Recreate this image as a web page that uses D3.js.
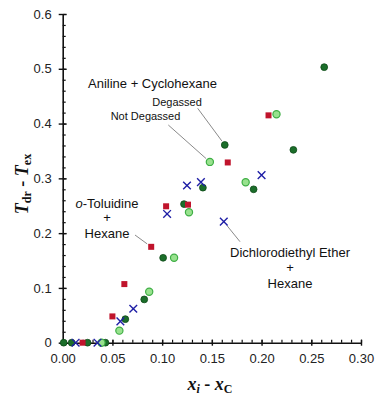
<!DOCTYPE html>
<html>
<head>
<meta charset="utf-8">
<script src="https://cdn.jsdelivr.net/npm/d3@7"></script>
<style>
  body { margin: 0; background: #fff; }
  svg { display: block; }
  .tick text { font-family: "Liberation Sans", Arial, sans-serif; font-size: 13px; fill: #222; }
  .note { font-family: "Liberation Sans", Arial, sans-serif; fill: #111; }
  .title { font-family: "Liberation Serif", "Times New Roman", serif; font-weight: bold; fill: #111; }
</style>
</head>
<body>
<div class="panel"></div>
<script>

// Data (x_i - x_C, T_dr - T_ex)

const toluidineHexane = [
    [0.020, 0], [0.050, 0.048], [0.062, 0.107], [0.089, 0.175],
    [0.104, 0.249], [0.126, 0.252], [0.166, 0.329], [0.207, 0.415]
];

const etherHexane = [
    [0.013, 0], [0.035, 0], [0.058, 0.039], [0.071, 0.062], [0.105, 0.235],
    [0.125, 0.287], [0.139, 0.293], [0.162, 0.221], [0.200, 0.306]
];

const anilineDegassed = [
    [0.001, 0], [0.009, 0], [0.025, 0], [0.043, 0], [0.063, 0.043],
    [0.082, 0.079], [0.101, 0.155], [0.122, 0.253], [0.141, 0.283],
    [0.163, 0.361], [0.192, 0.280], [0.232, 0.352], [0.263, 0.503]
];

const anilineNotDegassed = [
    [0.039, 0], [0.057, 0.022], [0.087, 0.093], [0.112, 0.155],
    [0.127, 0.238], [0.148, 0.330], [0.184, 0.293], [0.215, 0.417]
];

const xTicks = [0, 0.05, 0.10, 0.15, 0.20, 0.25, 0.30];
const yTicks = [0, 0.1, 0.2, 0.3, 0.4, 0.5, 0.6];

drawChart();

function drawChart() {

    const params = {
        width: 380,
        height: 398,
        left: 62.7,
        right: 361,
        top: 14,
        bottom: 342.7
    };

    const svg = d3.select(".panel").append("svg")
        .attr("width", params.width)
        .attr("height", params.height);

    const x = d3.scaleLinear().domain([0, 0.3]).range([params.left, params.right]);
    const y = d3.scaleLinear().domain([0, 0.6]).range([params.bottom, params.top]);

    const xMinor = d3.range(0, 0.3001, 0.01);
    const yMinor = d3.range(0, 0.6001, 0.02);

    // minor ticks (inside)
    svg.append("g")
        .attr("transform", `translate(${params.left},0)`)
        .call(d3.axisRight(y).tickValues(yMinor).tickSize(3).tickFormat(""))
        .call(g => g.select(".domain").remove())
        .call(g => g.selectAll("line").attr("stroke", "#111").attr("stroke-width", 1.2));

    svg.append("g")
        .attr("transform", `translate(0,${params.bottom})`)
        .call(d3.axisTop(x).tickValues(xMinor).tickSize(3).tickFormat(""))
        .call(g => g.select(".domain").remove())
        .call(g => g.selectAll("line").attr("stroke", "#111").attr("stroke-width", 1.2));

    // major axes, ticks cross the axis line
    svg.append("g")
        .attr("transform", `translate(${params.left},0)`)
        .call(d3.axisLeft(y).tickValues(yTicks).tickSizeInner(4).tickSizeOuter(0).tickPadding(7)
            .tickFormat(d => d === 0 ? "0" : d3.format(".1f")(d)))
        .call(g => g.select(".domain").attr("stroke", "#111").attr("stroke-width", 1.6))
        .call(g => g.selectAll(".tick line").attr("x1", 4).attr("stroke", "#111").attr("stroke-width", 1.4));

    svg.append("g")
        .attr("transform", `translate(0,${params.bottom})`)
        .call(d3.axisBottom(x).tickValues(xTicks).tickSizeInner(3).tickSizeOuter(0).tickPadding(8)
            .tickFormat(d3.format(".2f")))
        .call(g => g.select(".domain").attr("stroke", "#111").attr("stroke-width", 1.6))
        .call(g => g.selectAll(".tick line").attr("y1", -3).attr("stroke", "#111").attr("stroke-width", 1.4));

    // axis titles
    const yTitle = svg.append("text")
        .attr("class", "title")
        .attr("transform", `translate(28,184) rotate(-90)`)
        .attr("text-anchor", "middle")
        .attr("font-size", 18);
    yTitle.append("tspan").attr("font-style", "italic").text("T");
    yTitle.append("tspan").attr("font-size", 12).attr("dy", 3).text("dr");
    yTitle.append("tspan").attr("dy", -3).text(" - ");
    yTitle.append("tspan").attr("font-style", "italic").text("T");
    yTitle.append("tspan").attr("font-size", 12).attr("dy", 3).text("ex");

    const xTitle = svg.append("text")
        .attr("class", "title")
        .attr("x", 210)
        .attr("y", 390)
        .attr("text-anchor", "middle")
        .attr("font-size", 18);
    xTitle.append("tspan").attr("font-style", "italic").text("x");
    xTitle.append("tspan").attr("font-style", "italic").attr("font-size", 12).attr("dy", 3).text("i");
    xTitle.append("tspan").attr("dy", -3).text(" - ");
    xTitle.append("tspan").attr("font-style", "italic").text("x");
    xTitle.append("tspan").attr("font-size", 12).attr("dy", 3).text("C");

    // leader lines
    const leaders = [
        { from: [197.7, 108.3], to: anilineDegassed[9] },
        { from: [168.3, 125], to: anilineNotDegassed[5] },
        { from: [135, 235], to: toluidineHexane[3] },
        { from: [240, 241.7], to: etherHexane[7] }
    ];

    svg.selectAll(".leader")
        .data(leaders)
        .enter().append("line")
        .attr("class", "leader")
        .attr("x1", d => d.from[0])
        .attr("y1", d => d.from[1])
        .attr("x2", d => {
            const px = x(d.to[0]), py = y(d.to[1]);
            const dx = px - d.from[0], dy = py - d.from[1], len = Math.hypot(dx, dy);
            return px - dx / len * 5;
        })
        .attr("y2", d => {
            const px = x(d.to[0]), py = y(d.to[1]);
            const dx = px - d.from[0], dy = py - d.from[1], len = Math.hypot(dx, dy);
            return py - dy / len * 5;
        })
        .attr("stroke", "#8a8a8a")
        .attr("stroke-width", 1);

    // annotations
    const notes = [
        { text: "Aniline + Cyclohexane", x: 152.5, y: 88, size: 13 },
        { text: "Degassed", x: 177, y: 105.5, size: 11 },
        { text: "Not Degassed", x: 145.5, y: 119.5, size: 11 },
        { text: "+", x: 107, y: 222, size: 13 },
        { text: "Hexane", x: 107, y: 237.5, size: 13 },
        { text: "Dichlorodiethyl Ether", x: 290, y: 257, size: 13 },
        { text: "+", x: 290, y: 272, size: 13 },
        { text: "Hexane", x: 290, y: 288, size: 13 }
    ];

    svg.selectAll(".note")
        .data(notes)
        .enter().append("text")
        .attr("class", "note")
        .attr("x", d => d.x)
        .attr("y", d => d.y)
        .attr("text-anchor", "middle")
        .attr("font-size", d => d.size)
        .text(d => d.text);

    const tol = svg.append("text")
        .attr("class", "note")
        .attr("x", 107)
        .attr("y", 207.5)
        .attr("text-anchor", "middle")
        .attr("font-size", 13);
    tol.append("tspan").attr("font-style", "italic").text("o");
    tol.append("tspan").text("-Toluidine");

    // markers
    svg.selectAll(".degassed")
        .data(anilineDegassed)
        .enter().append("circle")
        .attr("class", "degassed")
        .attr("cx", d => x(d[0]))
        .attr("cy", d => y(d[1]))
        .attr("r", 3.4)
        .attr("fill", "#1b6e2a")
        .attr("stroke", "#0e4a18")
        .attr("stroke-width", 0.8);

    svg.selectAll(".notdegassed")
        .data(anilineNotDegassed)
        .enter().append("circle")
        .attr("class", "notdegassed")
        .attr("cx", d => x(d[0]))
        .attr("cy", d => y(d[1]))
        .attr("r", 3.6)
        .attr("fill", "#98e28e")
        .attr("stroke", "#3fae45")
        .attr("stroke-width", 1.2);

    svg.selectAll(".toluidine")
        .data(toluidineHexane)
        .enter().append("path")
        .attr("class", "toluidine")
        .attr("transform", d => `translate(${x(d[0])},${y(d[1])})`)
        .attr("d", d3.symbol().type(d3.symbolSquare).size(36))
        .attr("fill", "#c0142c");

    svg.selectAll(".ether")
        .data(etherHexane)
        .enter().append("path")
        .attr("class", "ether")
        .attr("transform", d => `translate(${x(d[0])},${y(d[1])})`)
        .attr("d", d3.symbol().type(d3.symbolTimes).size(40))
        .attr("fill", "none")
        .attr("stroke", "#1f1fa6")
        .attr("stroke-width", 1.4);
}
</script>
</body>
</html>
